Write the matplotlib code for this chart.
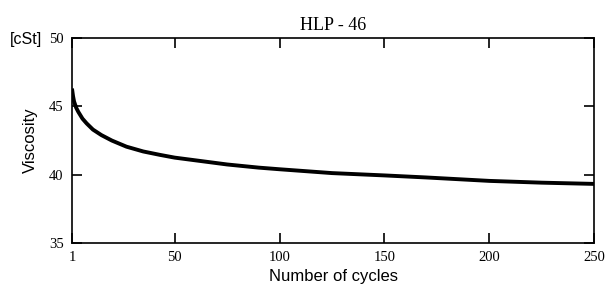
import numpy as np
import matplotlib.pyplot as plt

# datos
ciclos = [1, 1.5, 2, 3, 4, 6, 8, 11, 15, 20, 27, 35, 43, 50, 60, 75, 90, 100, 125, 150, 170, 200, 225, 250]
viscosidad = [46.3, 45.75, 45.35, 44.9, 44.6, 44.1, 43.75, 43.3, 42.9, 42.5, 42.05, 41.7, 41.45, 41.25,
              41.05, 40.75, 40.52, 40.4, 40.12, 39.95, 39.8, 39.55, 39.42, 39.33]
xticks = [1, 50, 100, 150, 200, 250]
yticks = [35, 40, 45, 50]

fig = plt.figure(figsize=(6.1, 2.94), dpi=100)
ax = fig.add_axes([0.118, 0.173, 0.974 - 0.118, 0.871 - 0.173])

ax.plot(ciclos, viscosidad, color='black', linewidth=2.8, solid_capstyle='butt')

ax.set_xlim(1, 250)
ax.set_ylim(35, 50)
ax.set_xticks(xticks)
ax.set_yticks(yticks)
ax.tick_params(direction='in', top=True, right=True, length=7, width=1.2,
               labelsize=10.5, pad=6)
for lab in ax.get_xticklabels() + ax.get_yticklabels():
    lab.set_family('Liberation Serif')
for s in ax.spines.values():
    s.set_linewidth(1.2)

ax.set_title('HLP - 46', family='Liberation Serif', fontsize=13, pad=6)
ax.set_xlabel('Number of cycles', family='Liberation Sans', fontsize=12, labelpad=3)
ax.set_ylabel('Viscosity', family='Liberation Sans', fontsize=12, labelpad=8)
fig.text(0.016, 0.867, '[cSt]', family='Liberation Sans', fontsize=11.5, va='center')

fig.savefig('out.png', dpi=100)
